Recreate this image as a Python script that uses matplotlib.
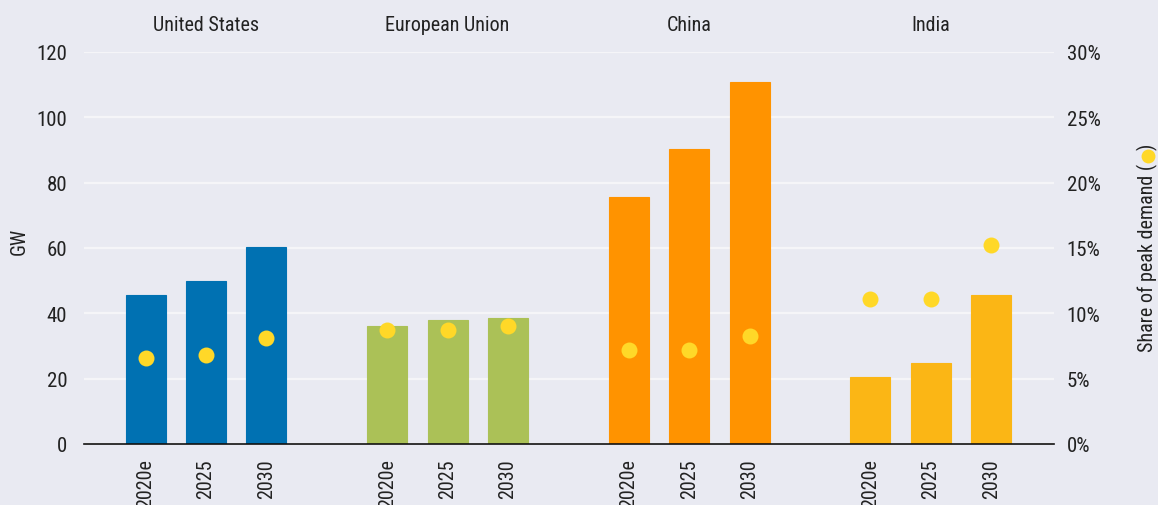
import matplotlib
matplotlib.use('Agg')
import matplotlib.pyplot as plt
from matplotlib import font_manager
from matplotlib.lines import Line2D
import numpy as np

# values
groups = ['United States', 'European Union', 'China', 'India']
years = ['2020e', '2025', '2030']
us_gw = [45.5, 49.8, 60.2]
eu_gw = [36.0, 37.9, 38.7]
china_gw = [75.6, 90.3, 110.9]
india_gw = [20.5, 24.9, 45.5]
us_share = [6.6, 6.8, 8.1]
eu_share = [8.7, 8.7, 9.0]
china_share = [7.2, 7.2, 8.3]
india_share = [11.1, 11.1, 15.2]
gw_ticks = [0, 20, 40, 60, 80, 100, 120]
share_ticks = [0, 5, 10, 15, 20, 25, 30]

gw = [us_gw, eu_gw, china_gw, india_gw]
share = [us_share, eu_share, china_share, india_share]
colors = ['#0071b2', '#abc157', '#ff9300', '#fbb615']
dot_color = '#ffd828'
bg = '#e9eaf2'

# pick a narrow font if one is around
names = {f.name for f in font_manager.fontManager.ttflist}
fam = 'DejaVu Sans'
stretch = 'normal'
for cand in ['Liberation Sans Narrow', 'Roboto Condensed', 'Open Sans Condensed']:
  if cand in names:
    fam = cand
    break
else:
  for f in font_manager.fontManager.ttflist:
    if f.name == 'DejaVu Sans' and 'ondensed' in f.fname:
      stretch = 'condensed'
      break
plt.rcParams['font.family'] = [fam, 'DejaVu Sans']
plt.rcParams['font.stretch'] = stretch
fs = 15
fs_title = 14.5

fig = plt.figure(figsize=(11.58, 5.06), dpi=100, facecolor=bg)
ax = fig.add_axes([84/1158, 1 - 445/506, (1054-84)/1158, (445-53)/506])
ax.set_facecolor(bg)
ax2 = ax.twinx()

xpos = []
xlab = []
for i, g in enumerate(groups):
  x = np.arange(3) + i*4
  ax.bar(x, gw[i], width=0.66, color=colors[i], zorder=3,
         edgecolor=colors[i], linewidth=0.8)
  ax2.plot(x, share[i], 'o', color=dot_color, markersize=11.5,
           markeredgewidth=0, zorder=4)
  ax.text(x.mean(), 1.045, g, transform=ax.get_xaxis_transform(),
          ha='center', va='bottom', fontsize=fs_title, color='#222222')
  xpos += list(x)
  xlab += years

ax.set_xlim(-1.02, 15.04)
ax.set_ylim(0, 120)
ax2.set_ylim(0, 30)
ax.set_yticks(gw_ticks)
ax2.set_yticks(share_ticks)
ax2.set_yticklabels(['%d%%' % s for s in share_ticks])
ax.set_xticks(xpos)
ax.set_xticklabels(xlab, rotation=90, va='top', ha='center')
ax.grid(axis='y', color='#f5f5f8', linewidth=1.6, zorder=0)
ax.set_axisbelow(True)

for a in (ax, ax2):
  for s in a.spines.values():
    s.set_visible(False)
  a.tick_params(length=0, labelsize=fs, colors='#222222')
ax.spines['bottom'].set_visible(True)
ax.spines['bottom'].set_color('#111111')
ax.spines['bottom'].set_linewidth(1.2)
ax.spines['bottom'].set_zorder(5)
ax.tick_params(axis='y', pad=12)
ax.tick_params(axis='x', pad=10)
ax.tick_params(axis='x', labelsize=14.5)
ax2.tick_params(axis='y', pad=9)

ax.set_ylabel('GW', fontsize=fs_title, color='#222222')
ax.yaxis.set_label_coords(-0.057, 0.52)

# right label: real brackets, yellow dot placed in the gap between them
fig.canvas.draw()
r = fig.canvas.get_renderer()
lx = 1147/1158
ly = 1 - 352/506
label = 'Share of peak demand (   )'
kw = dict(rotation=90, ha='center', va='bottom', fontsize=fs_title)
fig.text(lx, ly, label, color='#222222', **kw)
pre = fig.text(lx, ly, 'Share of peak demand (', alpha=0, **kw)
full = fig.text(lx, ly, label, alpha=0, **kw)
y0 = pre.get_window_extent(r).y1
y1 = full.get_window_extent(r).y1
close_w = fig.text(lx, ly, ')', alpha=0, **kw).get_window_extent(r).height
ymid = (y0 + y1 - close_w) / 2 / fig.bbox.height
fig.add_artist(Line2D([lx + 1/1158], [ymid], marker='o',
                      color=dot_color, markersize=10, markeredgewidth=0,
                      transform=fig.transFigure))

plt.savefig('out.png', dpi=100, facecolor=bg)
